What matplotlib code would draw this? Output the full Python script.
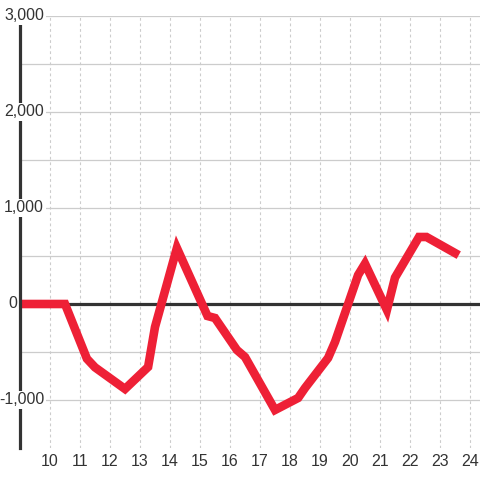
import matplotlib.pyplot as plt
import matplotlib.transforms as mtransforms

plt.rcParams['font.family'] = ['Liberation Sans', 'DejaVu Sans']

# readings (hour of day, value)
hours = [9.0, 10.5, 11.23, 11.5, 12.5, 13.27, 13.5, 14.23, 15.25, 15.5,
         16.23, 16.5, 17.5, 18.27, 18.5, 19.27, 19.5, 20.27, 20.5, 21.23,
         21.5, 22.3, 22.55, 23.5]
values = [0, 0, -570, -660, -885, -656, -240, 583, -125, -146,
          -479, -552, -1104, -979, -875, -562, -396, 302, 420, -62,
          275, 698, 698, 531]
x_ticks = list(range(10, 25))
y_ticks = [-1000, 1000, 2000, 3000]
y_minor = [-500, 500, 1500, 2500]

fig = plt.figure(figsize=(4.8, 4.8), dpi=100)
ax = fig.add_axes([20/480, 32/480, 460/480, 432/480])
ax.set_xlim(9, 24 + 1/3)
ax.set_ylim(-1500, 3000)

for v in y_ticks + y_minor:
    ax.axhline(v, color='#cccccc', lw=0.9, zorder=1)
for t in x_ticks:
    ax.axvline(t, color='#cccccc', lw=0.8, ls=(0, (2.5, 2.5)), zorder=1)

ax.axhline(0, color='#333333', lw=2.3, zorder=2)
ax.plot(hours, values, color='#ee2036', lw=6.2, solid_joinstyle='miter', zorder=3)

for s in ['top', 'right', 'bottom']:
    ax.spines[s].set_visible(False)
ax.spines['left'].set_color('#333333')
ax.spines['left'].set_linewidth(2.3)
ax.spines['left'].set_zorder(4)

ax.set_xticks([])
ax.set_yticks([])

trans = mtransforms.blended_transform_factory(ax.transAxes, ax.transData)
for v in y_ticks:
    ax.text(24/460, v, f'{v:,}', transform=trans, ha='right', va='center',
            fontsize=11.5, color='#333333', zorder=5, clip_on=False,
            bbox=dict(boxstyle='square,pad=0.1', fc='white', ec='none'))
ax.text(-3/460, 0, '0', transform=trans, ha='right', va='center',
        fontsize=11.5, color='#333333', clip_on=False)
for t in x_ticks:
    ax.text(t, -1500, str(t), ha='center', va='top', fontsize=11.5,
            color='#333333', clip_on=False,
            transform=ax.transData + mtransforms.ScaledTranslation(0, -6/100, fig.dpi_scale_trans))

fig.savefig('out.png', dpi=100, facecolor='white')
